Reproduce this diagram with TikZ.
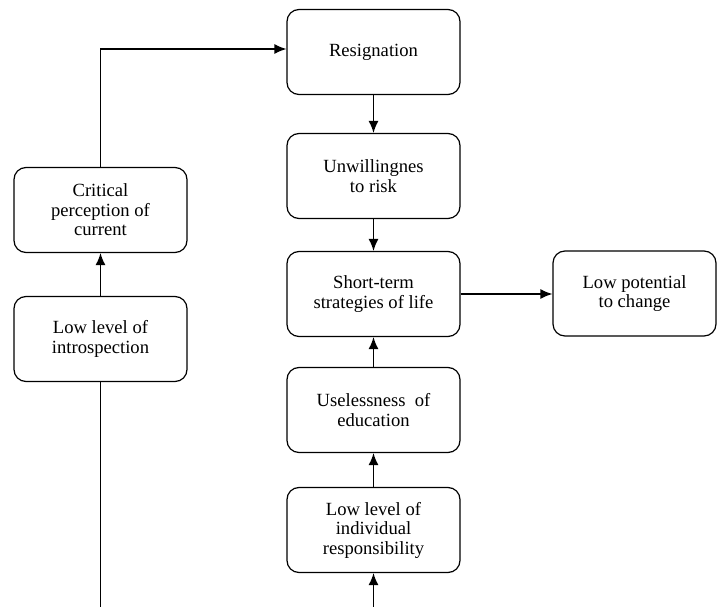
\documentclass[tikz,border=0pt]{standalone}
\usepackage{fontspec}
\setmainfont{Liberation Serif}
\usetikzlibrary{arrows.meta}
\begin{document}
\begin{tikzpicture}[x=1pt,y=-1pt,
  stagebox/.style={draw, line width=1.2pt, rounded corners=12pt,
    minimum width=173pt, minimum height=85pt, align=center,
    font=\fontsize{18.6}{19.5}\selectfont, inner sep=2pt},
  flow/.style={line width=1.3pt, -{Latex[length=12pt,width=10pt]}},
  plain/.style={line width=1.3pt}]
\useasboundingbox (0,0) rectangle (718,607);

% right-hand column
\node[stagebox] (resig) at (373.5,52) {Resignation};
\node[stagebox] (unwill) at (373.5,176) {Unwillingnes\\to risk};
\node[stagebox] (short) at (373.5,294) {Short-term\\strategies of life};
\node[stagebox, minimum width=163pt] (lowpot) at (634.5,293.5) {Low potential\\to change};
\node[stagebox] (useless) at (373.5,410) {Uselessness\ \ of\\education};
\node[stagebox] (indiv) at (373.5,530) {Low level of\\individual\\responsibility};

% left-hand column
\node[stagebox] (crit) at (100.5,210) {Critical\\perception of\\current};
\node[stagebox] (intro) at (100.5,339) {Low level of\\introspection};

% loose ends at the lower edge
\coordinate (leftin) at (100.5,607);
\coordinate (rightin) at (373.5,607);

% connectors
\draw[plain] (leftin) -- (intro.south);
\draw[flow] (intro.north) -- (crit.south);
\draw[flow] (crit.north) |- ([yshift=3pt]resig.west);
\draw[flow] (resig.south) -- (unwill.north);
\draw[flow] (unwill.south) -- (short.north);
\draw[flow] (short.east) -- (short.east -| lowpot.west);
\draw[flow] (useless.north) -- (short.south);
\draw[flow] (indiv.north) -- (useless.south);
\draw[flow] (rightin) -- (indiv.south);
\end{tikzpicture}
\end{document}
